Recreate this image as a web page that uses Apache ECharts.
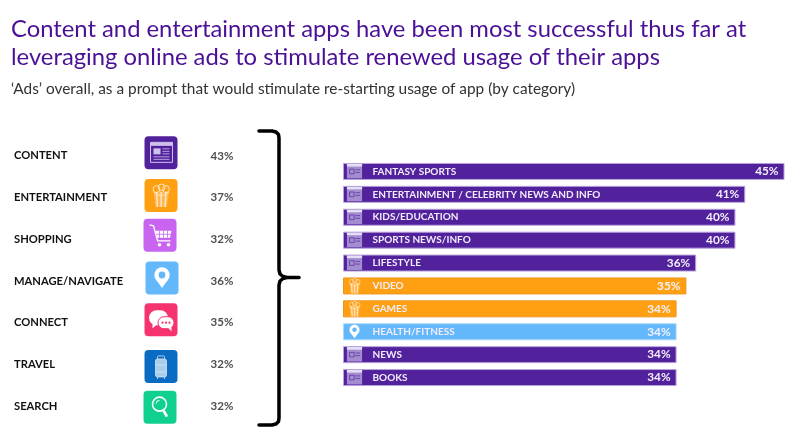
<!DOCTYPE html>
<html>
<head>
<meta charset="utf-8">
<style>html,body{margin:0;padding:0;background:#fff}#c{width:800px;height:444px}</style>
<script src="https://cdn.jsdelivr.net/npm/echarts@6/dist/echarts.min.js"></script>
</head>
<body>
<div id="c"></div>
<script>
const titleText = 'Content and entertainment apps have been most successful thus far at\nleveraging online ads to stimulate renewed usage of their apps';
const subtitleText = '\u2018Ads\u2019 overall, as a prompt that would stimulate re-starting usage of app (by category)';

const groupNames = ['CONTENT', 'ENTERTAINMENT', 'SHOPPING', 'MANAGE/NAVIGATE', 'CONNECT', 'TRAVEL', 'SEARCH'];
const groupValues = [43, 37, 32, 36, 35, 32, 32];
const groupKinds = ['content', 'entertainment', 'shopping', 'navigate', 'connect', 'travel', 'search'];

const appNames = ['FANTASY SPORTS', 'ENTERTAINMENT / CELEBRITY NEWS AND INFO', 'KIDS/EDUCATION', 'SPORTS NEWS/INFO', 'LIFESTYLE', 'VIDEO', 'GAMES', 'HEALTH/FITNESS', 'NEWS', 'BOOKS'];
const appValues = [45, 41, 40, 40, 36, 35, 34, 34, 34, 34];
const appKinds = ['content', 'content', 'content', 'content', 'content', 'entertainment', 'entertainment', 'navigate', 'content', 'content'];

const FONT = 'Lato, "Open Sans", sans-serif';
const kindColor = {content:'#52219c', entertainment:'#ff9f12', shopping:'#c964f0', navigate:'#62b8fb', connect:'#f5336e', travel:'#0a6bc2', search:'#0fd08f'};
const kindBorder = {content:'#b9a3dc', entertainment:'#ee9420', navigate:'#a9d8fb'};
// small hand placement of the tiles in the left column, as in the original slide
const tileNudge = [[0,-3],[0,-2],[-1,-4],[1,-3],[0,-3],[0,2],[-1,1]];

function rect(x,y,w,h,style,r){return {type:'rect',shape:{x,y,width:w,height:h,r:r||0},style};}
function circ(cx,cy,r,style){return {type:'circle',shape:{cx,cy,r},style};}
function line(x1,y1,x2,y2,style){return {type:'line',shape:{x1,y1,x2,y2},style};}
function poly(points,style){return {type:'polygon',shape:{points},style};}
function pline(points,style){return {type:'polyline',shape:{points},style};}

function glyph(kind, small){
  const W='#ffffff';
  const s=(c,w)=>({stroke:c,lineWidth:w,fill:null});
  const f=c=>({fill:c});
  if(kind==='content'){
    const c=small?'#a48cd0':'#cfc2ea';
    if(small){
      return [rect(5,5,23,22,f(c)),rect(5,5,23,4,f('#e6def5')),
        rect(9,13,7,7,s('#52219c',1)),line(18,14,25,14,s('#52219c',1)),line(18,18,25,18,s('#52219c',1))];
    }
    return [rect(6,6,22,20,s(c,1)),rect(6,6,22,3.5,f(c)),rect(9,12,7,6,f(c)),
      line(18,12.5,25,12.5,s(c,.8)),line(18,15,25,15,s(c,.8)),line(18,17.5,25,17.5,s(c,.8)),
      line(9,20.5,25,20.5,s(c,.8)),line(9,23,25,23,s(c,.8))];
  }
  if(kind==='entertainment'){
    const c='#ffe6c2';
    return [circ(12,10,3.4,s(c,1)),circ(17,8.4,3.4,s(c,1)),circ(21.5,10,3.4,s(c,1)),
      poly([[9,13],[24.5,13],[22.5,28],[11,28]],f('rgba(255,255,255,.25)')),
      line(12,13,13,28,s(c,1.5)),line(16.7,13,16.7,28,s(c,1.5)),line(21.5,13,20.5,28,s(c,1.5)),
      pline([[9,13],[16.7,17],[24.5,13]],s(c,1))];
  }
  if(kind==='shopping'){
    const c=W, o=[pline([[6,6],[10,7],[14,22],[27,22]],s(c,1.3)),poly([[12,12],[28,12],[26.5,19],[13.5,19]],f(c)),
      circ(16,26,1.8,f(c)),circ(25,26,1.8,f(c))];
    [16,20,24].forEach(x=>o.push(line(x,12,x,19,s(kindColor.shopping,.8))));
    o.push(line(12.5,15.5,28,15.5,s(kindColor.shopping,.8)));
    return o;
  }
  if(kind==='navigate'){
    return [poly([[10.5,18],[22.5,18],[16.5,26.5]],f(W)),circ(16.5,13.5,7.7,f(W)),circ(16.5,13.5,3.4,f(kindColor.navigate))];
  }
  if(kind==='connect'){
    const P=kindColor.connect;
    return [rect(4.5,7,19,15,f(W),7.5),poly([[8,19],[13,21],[8,25]],f(W)),
      rect(13.5,13.5,16,12,{fill:W,stroke:P,lineWidth:1},6),poly([[23,24],[27,24],[27,28]],f(W)),
      circ(18,19.5,1.1,f(P)),circ(21.5,19.5,1.1,f(P)),circ(25,19.5,1.1,f(P))];
  }
  if(kind==='travel'){
    const c='#a9cdea';
    return [rect(13,6,7,4,s(c,1),1),rect(11,9,11,18,{fill:c,stroke:'#d5e6f5',lineWidth:.8},2),
      line(11,15,22,15,s('#d5e6f5',.8)),line(11,22,22,22,s('#d5e6f5',.8)),
      line(13,27,13,29,s(c,1.2)),line(20,27,20,29,s(c,1.2))];
  }
  return [circ(16,13.5,7,s(W,1.6)),line(20,20,23.5,26,s(W,2.8)),pline([[12.5,13],[13.5,10.5],[16,9.8]],s(W,1))];
}

const chart = echarts.init(document.getElementById('c'));
chart.setOption({
  backgroundColor:'#fff',
  animation:false,
  title:[
    {text:titleText,left:6,top:10.5,textStyle:{fontFamily:FONT,fontWeight:400,fontSize:23.8,lineHeight:28,color:'#4a1196'}},
    {text:subtitleText,left:6,top:77,textStyle:{fontFamily:FONT,fontWeight:400,fontSize:15.4,color:'#333333'}}
  ],
  grid:[
    {left:130.5,top:135,width:122,height:292},
    {left:343,top:160,width:441.5,height:229}
  ],
  xAxis:[
    {gridIndex:0,type:'category',data:['icon','value'],show:false},
    {gridIndex:1,type:'value',min:0,max:45,show:false}
  ],
  yAxis:[
    {gridIndex:0,type:'category',inverse:true,data:groupNames,
      axisLine:{show:false},axisTick:{show:false},
      axisLabel:{interval:0,align:'left',margin:116.5,fontFamily:FONT,fontWeight:700,fontSize:11.2,color:'#111111'}},
    {gridIndex:1,type:'category',inverse:true,data:appNames,z:6,
      axisLine:{show:false},axisTick:{show:false},
      axisLabel:{interval:0,inside:true,margin:29.5,fontFamily:FONT,fontWeight:700,fontSize:10,color:'#f1ecfa'}}
  ],
  series:[
    {type:'custom',xAxisIndex:0,yAxisIndex:0,silent:true,
      data:groupKinds.map((k,i)=>['icon',i]),
      renderItem(params,api){
        const i=params.dataIndex, p=api.coord(['icon',i]), k=groupKinds[i], n=tileNudge[i];
        return {type:'group',x:p[0]+n[0]-16.5,y:p[1]+n[1]-16.5,children:[
          rect(0,0,33,33,{fill:kindColor[k]},4)].concat(glyph(k,false))};
      }},
    {type:'scatter',xAxisIndex:0,yAxisIndex:0,symbolSize:0,silent:true,
      data:groupValues.map((v,i)=>['value',i,v]),
      label:{show:true,position:'inside',formatter:p=>p.value[2]+'%',fontFamily:FONT,fontWeight:700,fontSize:11.5,color:'#222222'}},
    {type:'bar',xAxisIndex:1,yAxisIndex:1,barWidth:17,silent:true,
      data:appValues.map((v,i)=>({value:v,itemStyle:{color:kindColor[appKinds[i]],borderColor:kindBorder[appKinds[i]],borderWidth:1}})),
      label:{show:true,position:'insideRight',distance:6,formatter:'{c}%',fontFamily:FONT,fontWeight:700,fontSize:11.8,color:'#f4f0fb'}},
    {type:'custom',xAxisIndex:1,yAxisIndex:1,silent:true,z:4,
      data:appKinds.map((k,i)=>[0,i]),
      renderItem(params,api){
        const i=params.dataIndex, p=api.coord([0,i]), sc=0.66;
        return {type:'group',x:p[0]+11.5-16.5*sc,y:p[1]-16.5*sc,scaleX:sc,scaleY:sc,children:glyph(appKinds[i],true)};
      }}
  ],
  graphic:[{type:'polyline',silent:true,z:10,
    shape:{points:[[259,131],[272,131],[276,132],[278.5,134.5],[279,138],[279,270],[280,274],[283,276.5],[287,277.5],[299,277.5],[287,277.5],[283,278.5],[280,281],[279,285],[279,418],[278.5,421.5],[276,424],[272,425],[259,425]]},
    style:{fill:null,stroke:'#000',lineWidth:3.5,lineCap:'round',lineJoin:'round'}}]
});
</script>
</body>
</html>
